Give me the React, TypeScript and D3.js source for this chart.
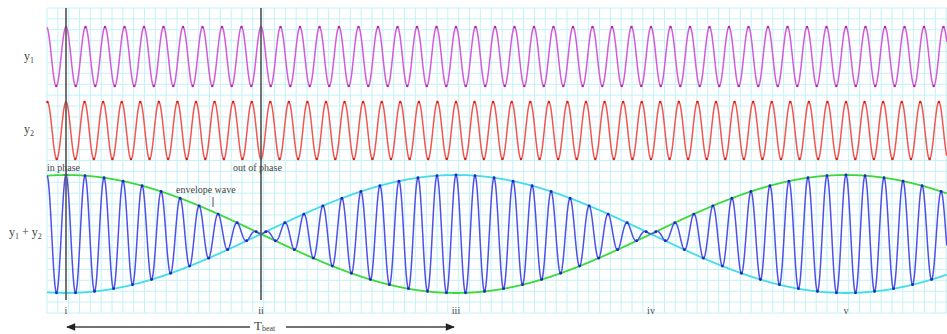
import * as d3 from "d3";

// wave parameters: cycles completed during one beat period
const waveNames = ["y1", "y2"];
const cyclesPerBeat = [20, 21];
const waveColors = ["#d45ada", "#f2554f"];
const waveDotColors = ["#b0289c", "#d81c1c"];

// beat markers (in beat periods from the first in-phase point)
const markerLabels = ["i", "ii", "iii", "iv", "v"];
const markerBeats = [0, 0.5, 1, 1.5, 2];
const phaseLines = [0, 0.5];
const phaseLabels = ["in phase", "out of phase"];

const width = 947;
const height = 334;

export default function App() {
  const marginLeft = 47;
  const gridTop = 8;
  const gridBottom = 313;

  // x: time in beat periods
  const x = d3.scaleLinear([0, 1], [66, 456]);
  const tStart = x.invert(marginLeft);
  const tEnd = x.invert(width);

  const y1 = d3.scaleLinear([-1, 1], [86, 27]);
  const y2 = d3.scaleLinear([-1, 1], [159, 102]);
  const ySum = d3.scaleLinear([-2, 2], [293, 175]);
  const yScales = [y1, y2];

  const ts = d3.range(tStart, tEnd, 0.25 / 390);
  const wave = (i: number) => (t: number) => Math.cos(2 * Math.PI * cyclesPerBeat[i] * t);
  const sum = (t: number) => wave(0)(t) + wave(1)(t);
  const env = (t: number) => 2 * Math.cos(Math.PI * t);

  const lineFor = (f: (t: number) => number, y: d3.ScaleLinear<number, number>) =>
    d3.line<number>().x(t => x(t)).y(t => y(f(t)))(ts) || "";

  // grid
  const cell = 390 / 36;
  const gx = d3.range(marginLeft, width, cell);
  const gy = d3.range(gridTop, gridBottom + 0.1, (gridBottom - gridTop) / 28);

  // extrema dots
  const waveDots = (i: number) =>
    d3.range(Math.ceil(tStart * 2 * cyclesPerBeat[i]), tEnd * 2 * cyclesPerBeat[i]).map(k => k / (2 * cyclesPerBeat[i]));
  const carrier = (cyclesPerBeat[0] + cyclesPerBeat[1]) / 2;
  const sumDots = d3.range(Math.ceil(tStart * 2 * carrier), tEnd * 2 * carrier).map(k => k / (2 * carrier));

  const font = "'Liberation Serif', 'DejaVu Serif', serif";
  const textColor = "#444";

  return (
    <svg width={width} height={height} viewBox={`0 0 ${width} ${height}`}
      style={{ position: "absolute", left: 0, top: 0, background: "#fff", fontFamily: font }}>
      <g stroke="#c4f2f6" strokeWidth={1}>
        {gx.map((v, i) => <line key={"gx" + i} x1={v} x2={v} y1={gridTop} y2={gridBottom} />)}
        {gy.map((v, i) => <line key={"gy" + i} x1={marginLeft} x2={width} y1={v} y2={v} />)}
      </g>

      {waveNames.map((n, i) => (
        <g key={n}>
          <path d={lineFor(wave(i), yScales[i])} fill="none" stroke={waveColors[i]} strokeWidth={1.5} />
          {waveDots(i).map((t, k) => (
            <circle key={k} cx={x(t)} cy={yScales[i](wave(i)(t))} r={1.2} fill={waveDotColors[i]} />
          ))}
        </g>
      ))}

      <path d={lineFor(env, ySum)} fill="none" stroke="#3cd83c" strokeWidth={1.8} />
      <path d={lineFor(t => -env(t), ySum)} fill="none" stroke="#44dcea" strokeWidth={1.8} />
      <path d={lineFor(sum, ySum)} fill="none" stroke="#5050e6" strokeWidth={1.5} />
      {sumDots.map((t, k) => (
        <circle key={k} cx={x(t)} cy={ySum(sum(t))} r={1.4} fill="#2424b8" />
      ))}

      {phaseLines.map((b, i) => (
        <line key={"pl" + i} x1={x(b)} x2={x(b)} y1={8} y2={300} stroke="#5a5a5a" strokeWidth={1.7} />
      ))}

      <g fill={textColor} fontSize={10}>
        <text x={24} y={60} fontSize={12}>y<tspan fontSize={8} dy={3}>1</tspan></text>
        <text x={24} y={133} fontSize={12}>y<tspan fontSize={8} dy={3}>2</tspan></text>
        <text x={9} y={236} fontSize={12}>y<tspan fontSize={8} dy={3}>1</tspan><tspan dy={-3}> + y</tspan><tspan fontSize={8} dy={3}>2</tspan></text>
        <text x={x(phaseLines[0]) - 19} y={171}>{phaseLabels[0]}</text>
        <text x={x(phaseLines[1]) - 28} y={171}>{phaseLabels[1]}</text>
        <text x={176} y={193}>envelope wave</text>
        {markerBeats.map((b, i) => (
          <text key={"m" + i} x={x(b)} y={314} textAnchor="middle">{markerLabels[i]}</text>
        ))}
        <text x={x(0.5) - 7} y={330} fontSize={13}>T<tspan fontSize={8} dy={1}>beat</tspan></text>
      </g>
      <line x1={213} x2={213} y1={197} y2={207} stroke="#555" strokeWidth={1} />

      <defs>
        <marker id="ah" viewBox="0 0 10 10" refX={9} refY={5} markerWidth={9} markerHeight={7} orient="auto-start-reverse">
          <path d="M0,1 L10,5 L0,9 Z" fill="#222" />
        </marker>
      </defs>
      <line x1={x(0) + 1} x2={x(0.5) - 11} y1={327} y2={327} stroke="#444" strokeWidth={1.3} markerStart="url(#ah)" />
      <line x1={x(0.5) + 25} x2={x(1) - 2} y1={327} y2={327} stroke="#444" strokeWidth={1.3} markerEnd="url(#ah)" />
    </svg>
  );
}
